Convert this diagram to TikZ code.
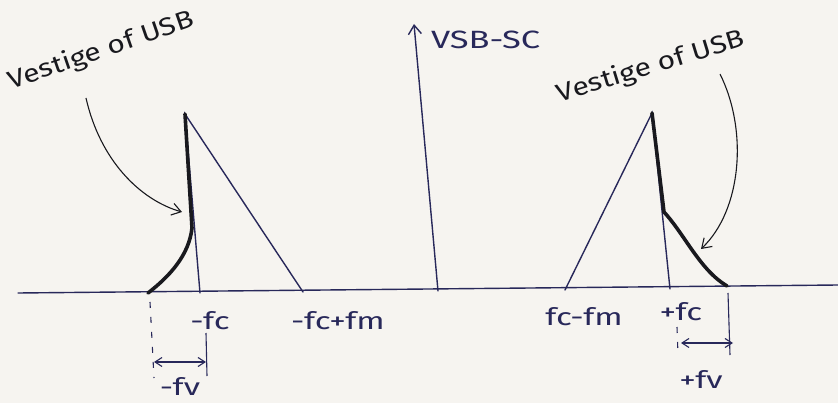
\documentclass[tikz,border=0pt]{standalone}
\usepackage{fontspec}
\setmainfont{Fira Sans}
\newfontfamily\handwide[FakeStretch=1.38]{Fira Sans}
\newfontfamily\handmid[FakeStretch=1.2]{Fira Sans}
\usetikzlibrary{arrows.meta}
\definecolor{paper}{RGB}{246,244,240}
\definecolor{inkc}{RGB}{40,40,90}
\definecolor{darkink}{RGB}{25,25,30}
\begin{document}
\begin{tikzpicture}[x=1pt,y=-1pt,
  ink/.style={draw=inkc, line width=1.4pt, line cap=round},
  vest/.style={draw=darkink, line width=3.6pt, line cap=round, line join=round},
  pointer/.style={draw=darkink, line width=1.1pt, -{Straight Barb[length=9pt,width=12pt]}},
  dim/.style={draw=inkc, line width=1.1pt, {Straight Barb[length=7pt,width=9pt]}-{Straight Barb[length=7pt,width=9pt]}},
  tick/.style={draw=inkc, line width=1.1pt},
  dashtick/.style={draw=inkc, line width=1.1pt, dash pattern=on 6pt off 9pt},
  lbl/.style={text=inkc, font=\handwide\fontsize{24}{27}\selectfont, inner sep=1pt},
  vlbl/.style={text=darkink, font=\handmid\fontsize{25}{28}\selectfont, inner sep=1pt}]
\fill[paper] (0,0) rectangle (838,403);
\useasboundingbox (0,0) rectangle (838,403);

% axis and carrier line
\coordinate (axL) at (18,293);
\coordinate (axR) at (838,285);
\draw[ink] (axL) -- (axR);
\coordinate (vb) at (438,291);
\coordinate (vt) at (414,24);
\draw[ink, -{Straight Barb[length=9pt,width=13pt]}] (vb) -- (vt);
\node[lbl, anchor=west, font=\handwide\fontsize{25}{28}\selectfont] (vsb) at (430,40) {VSB-SC};

% left spectrum
\coordinate (lp) at (185,114);
\coordinate (lfc) at (200,293);
\coordinate (lfm) at (303,292);
\coordinate (lk) at (192,228);
\coordinate (lv) at (148,293);
\draw[ink] (lfc) -- (lp) -- (lfm);
\draw[vest] (lp) -- (lk) .. controls (189,255) and (170,276) .. (lv);

% right spectrum
\coordinate (rp) at (652,113);
\coordinate (rfm) at (565,290);
\coordinate (rfc) at (670,289);
\coordinate (rk) at (664,212);
\coordinate (rv) at (727,286);
\draw[ink] (rfm) -- (rp) -- (rfc);
\draw[vest] (rp) -- (rk) .. controls (685,235) and (700,270) .. (rv);

% left labels
\node[lbl] (nfc) at (210,321) {-fc};
\node[lbl] (nfcfm) at (338,321) {-fc+fm};
\coordinate (ld1) at (150,302);
\coordinate (ld2) at (154,378);
\draw[dashtick] (ld1) -- (ld2);
\coordinate (lt1) at (206,333);
\coordinate (lt2) at (207,376);
\draw[tick] (lt1) -- (lt2);
\coordinate (la1) at (154,362);
\coordinate (la2) at (206,362);
\draw[dim] (la1) -- (la2);
\node[lbl] (nfv) at (180,386) {-fv};

% right labels
\node[lbl] (nfcm) at (584,317) {fc-fm};
\node[lbl] (npfc) at (681,312) {+fc};
\coordinate (rd1) at (677,327);
\coordinate (rd2) at (678,355);
\draw[dashtick] (rd1) -- (rd2);
\coordinate (rt1) at (728,293);
\coordinate (rt2) at (730,355);
\draw[tick] (rt1) -- (rt2);
\coordinate (ra1) at (681,343);
\coordinate (ra2) at (733,343);
\draw[dim] (ra1) -- (ra2);
\node[lbl] (npfv) at (701,379) {+fv};

% vestige annotations
\node[vlbl, rotate=19] (vl) at (101,51) {Vestige of USB};
\node[vlbl, rotate=17] (vr) at (651,67) {Vestige of USB};
\coordinate (pl1) at (86,98);
\coordinate (pl2) at (182,212);
\draw[pointer] (pl1) .. controls (100,160) and (140,200) .. (pl2);
\coordinate (pr1) at (720,74);
\coordinate (pr2) at (701,249);
\draw[pointer] (pr1) .. controls (748,130) and (742,210) .. (pr2);
\end{tikzpicture}
\end{document}
